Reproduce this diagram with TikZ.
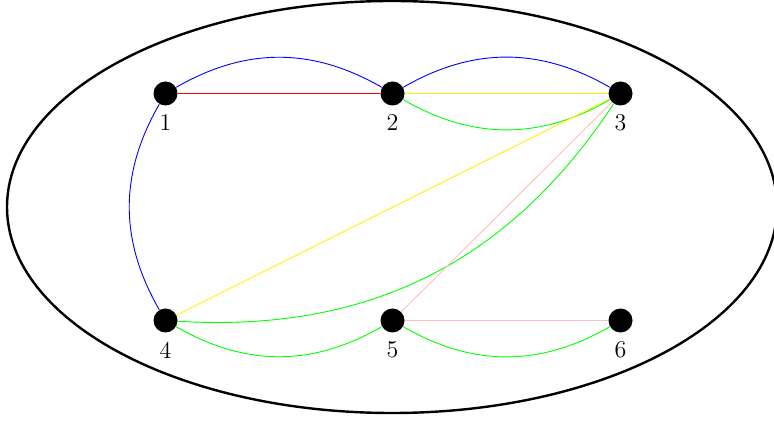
\documentclass[tikz,border=0pt]{standalone}
\begin{document}
\begin{tikzpicture}[x=0.5pt,y=-0.5pt,
  vertex/.style={circle,fill=black,inner sep=0pt,minimum size=12pt,
    label={[label distance=1pt,font=\large]below:#1}},
  edge/.style={line width=0.45pt}]
\useasboundingbox (0,0) rectangle (774,421);
\draw[line width=1.2pt] (392,207) ellipse [x radius=385, y radius=206];
\node[vertex=1] (n1) at (165.5,93.5) {};
\node[vertex=2] (n2) at (392.5,93.5) {};
\node[vertex=3] (n3) at (620.5,93.5) {};
\node[vertex=4] (n4) at (165.5,320.5) {};
\node[vertex=5] (n5) at (392.5,320.5) {};
\node[vertex=6] (n6) at (620.5,320.5) {};
\draw[edge,red] (n1) -- (n2);
\draw[edge,blue] (n1) to[bend left=30] (n2);
\draw[edge,blue] (n2) to[bend left=30] (n3);
\draw[edge,yellow] (n2) -- (n3);
\draw[edge,green] (n2) to[bend right=30] (n3);
\draw[edge,blue] (n1) to[bend right=30] (n4);
\draw[edge,yellow] (n4) -- (n3);
\draw[edge,green] (n4) to[bend right=30] (n3);
\draw[edge,pink] (n5) -- (n3);
\draw[edge,green] (n4) to[bend right=30] (n5);
\draw[edge,pink] (n5) -- (n6);
\draw[edge,green] (n5) to[bend right=30] (n6);
\end{tikzpicture}
\end{document}
